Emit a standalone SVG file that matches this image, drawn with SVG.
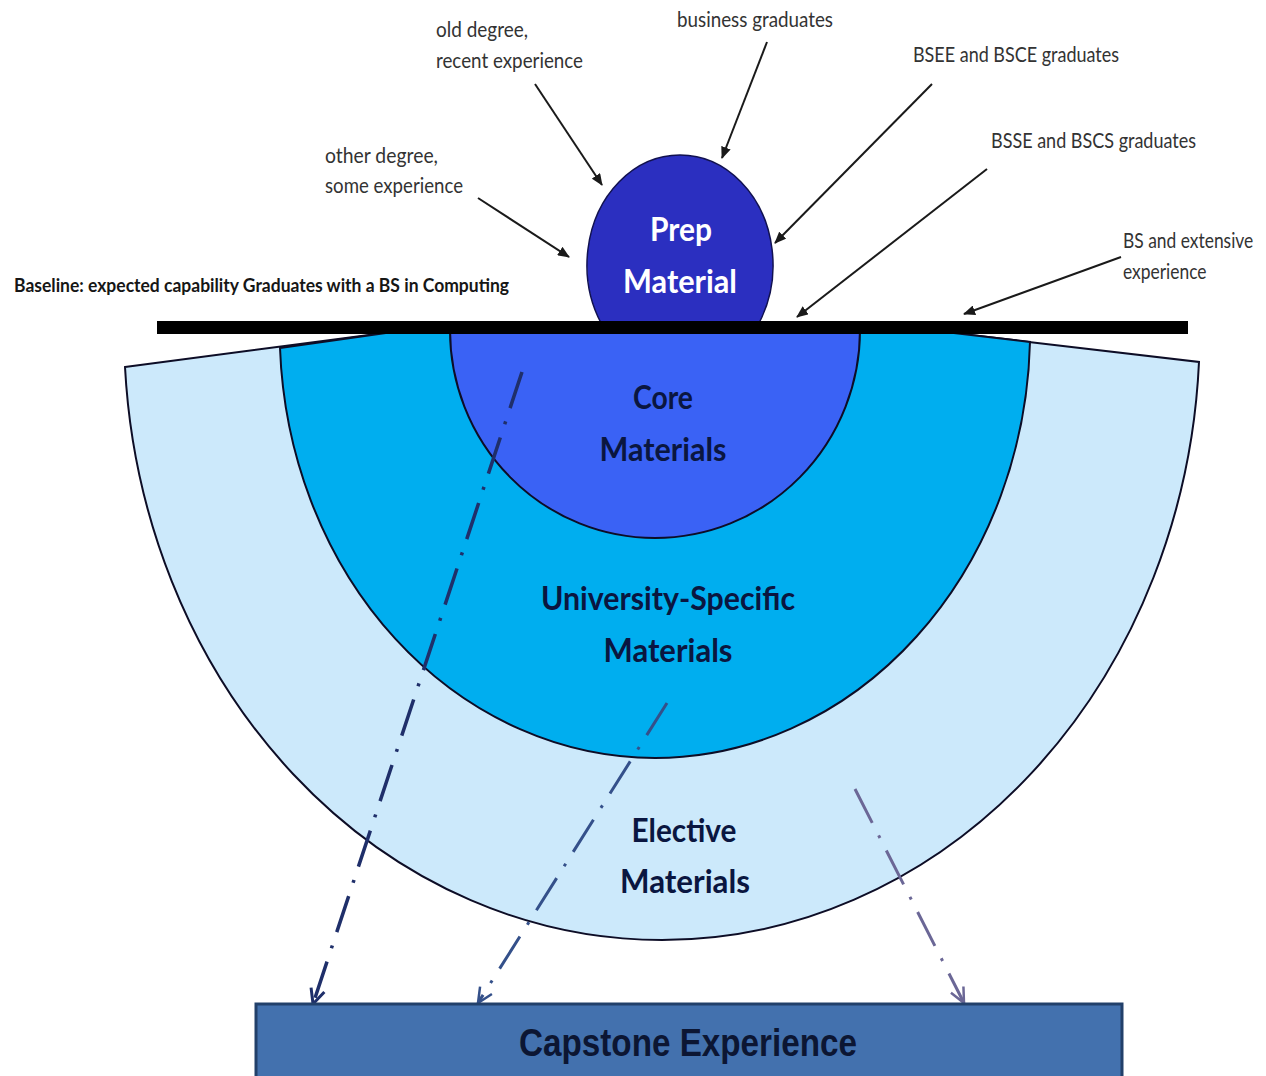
<svg xmlns="http://www.w3.org/2000/svg" width="1266" height="1076" viewBox="0 0 1266 1076">
  <defs>
    <style>
      .lbl{font-family:Lato,"Open Sans","Liberation Sans",sans-serif;font-size:21px;fill:#333}
      .base{font-family:Lato,"Liberation Sans",sans-serif;font-size:19px;font-weight:bold;fill:#161616}
      .big{font-family:Lato,"Open Sans","Liberation Sans",sans-serif;font-weight:bold;font-size:33px;text-anchor:middle}
      .dark{fill:#0a1640}
      .light{fill:#ffffff}
      .ring{stroke:#0d0d26;stroke-width:2}
      .ptr{stroke:#1a1a1a;stroke-width:2;fill:none;marker-end:url(#head)}
      .flow{fill:none;stroke-dasharray:38 14 3 14}
    </style>
    <marker id="head" viewBox="0 0 12 10" refX="11" refY="5" markerWidth="12" markerHeight="10" markerUnits="userSpaceOnUse" orient="auto">
      <path d="M0,0 L12,5 L0,10 Z" fill="#1a1a1a"/>
    </marker>
    <marker id="vA" viewBox="-18 -10 20 20" refX="0" refY="0" markerWidth="20" markerHeight="20" markerUnits="userSpaceOnUse" orient="auto">
      <path d="M-15,-7 L0,0 L-15,7" fill="none" stroke="#1f2f6a" stroke-width="3"/>
    </marker>
    <marker id="vB" viewBox="-18 -10 20 20" refX="0" refY="0" markerWidth="20" markerHeight="20" markerUnits="userSpaceOnUse" orient="auto">
      <path d="M-15,-7 L0,0 L-15,7" fill="none" stroke="#34508a" stroke-width="2.5"/>
    </marker>
    <marker id="vC" viewBox="-18 -10 20 20" refX="0" refY="0" markerWidth="20" markerHeight="20" markerUnits="userSpaceOnUse" orient="auto">
      <path d="M-15,-7 L0,0 L-15,7" fill="none" stroke="#6b6796" stroke-width="2.5"/>
    </marker>
  </defs>

  <rect width="1266" height="1076" fill="#ffffff"/>

  <!-- nested curriculum layers -->
  <g id="elective">
    <path class="ring" fill="#cce9fb" d="M125,367 L407,330 L928,330 L1199,362 A538,610 0 0 1 662,940 A538,610 0 0 1 125,367 Z"/>
  </g>
  <g id="university">
    <path class="ring" fill="#00aeef" d="M280,348 L407,330 L928,330 L1030,342 A376,428 0 0 1 655,758 A376,428 0 0 1 280,348 Z"/>
  </g>
  <g id="core">
    <path class="ring" fill="#3a62f5" d="M450,330 L860,330 A205,208 0 0 1 655,538 A205,208 0 0 1 450,330 Z"/>
  </g>

  <!-- connectors -->
  <g id="connectors">
    <path class="flow" stroke="#1f2f6a" stroke-width="3.5" marker-end="url(#vA)" d="M522,372 L313,1004"/>
    <path class="flow" stroke="#34508a" stroke-width="3" marker-end="url(#vB)" d="M667,703 L478,1003"/>
    <path class="flow" stroke="#6b6796" stroke-width="3" marker-end="url(#vC)" d="M855,789 L964,1003"/>
    <path class="ptr" d="M535,84 L602,185"/>
    <path class="ptr" d="M767,42 L722,158"/>
    <path class="ptr" d="M932,84 L775,243"/>
    <path class="ptr" d="M987,169 L797,317"/>
    <path class="ptr" d="M1121,257 L964,314"/>
    <path class="ptr" d="M478,198 L569,257"/>
  </g>

  <g id="prep">
    <path fill="#2b2fc0" stroke="#111150" stroke-width="1.5" d="M601.5,324 A93,110 0 1 1 758.5,324 Z"/>
    <text class="big light" x="681" y="241" textLength="62" lengthAdjust="spacingAndGlyphs">Prep</text>
    <text class="big light" x="680" y="293" textLength="114" lengthAdjust="spacingAndGlyphs">Material</text>
  </g>

  <g id="baseline">
    <rect x="157" y="321" width="1031" height="13" fill="#000000"/>
    <text class="base" x="14" y="292" textLength="495" lengthAdjust="spacingAndGlyphs">Baseline: expected capability Graduates with a BS in Computing</text>
  </g>

  <!-- layer titles -->
  <g id="core-label">
    <text class="big dark" x="663" y="409" textLength="60" lengthAdjust="spacingAndGlyphs">Core</text>
    <text class="big dark" x="663" y="461" textLength="127" lengthAdjust="spacingAndGlyphs">Materials</text>
  </g>
  <g id="university-label">
    <text class="big dark" x="668" y="610" textLength="254" lengthAdjust="spacingAndGlyphs">University-Specific</text>
    <text class="big dark" x="668" y="662" textLength="129" lengthAdjust="spacingAndGlyphs">Materials</text>
  </g>
  <g id="elective-label">
    <text class="big dark" x="684" y="842" textLength="105" lengthAdjust="spacingAndGlyphs">Elective</text>
    <text class="big dark" x="685" y="893" textLength="130" lengthAdjust="spacingAndGlyphs">Materials</text>
  </g>

  <g id="capstone">
    <rect x="256" y="1004" width="866" height="80" fill="#4371ae" stroke="#22406a" stroke-width="3"/>
    <text x="688" y="1056" font-family="'Liberation Sans',Arial,sans-serif" font-weight="bold" font-size="38" fill="#0c1633" text-anchor="middle" textLength="338" lengthAdjust="spacingAndGlyphs">Capstone Experience</text>
  </g>

  <!-- entry-point labels -->
  <g id="label-old-degree">
    <text class="lbl" x="436" y="37" textLength="92" lengthAdjust="spacingAndGlyphs">old degree,</text>
    <text class="lbl" x="436" y="68" textLength="147" lengthAdjust="spacingAndGlyphs">recent experience</text>
  </g>
  <g id="label-business">
    <text class="lbl" x="677" y="27" textLength="156" lengthAdjust="spacingAndGlyphs">business graduates</text>
  </g>
  <g id="label-bsee">
    <text class="lbl" x="913" y="62" textLength="206" lengthAdjust="spacingAndGlyphs">BSEE and BSCE graduates</text>
  </g>
  <g id="label-bsse">
    <text class="lbl" x="991" y="148" textLength="205" lengthAdjust="spacingAndGlyphs">BSSE and BSCS graduates</text>
  </g>
  <g id="label-extensive">
    <text class="lbl" transform="translate(1123,248) scale(0.83,1)">BS and extensive</text>
    <text class="lbl" transform="translate(1123,279) scale(0.83,1)">experience</text>
  </g>
  <g id="label-other-degree">
    <text class="lbl" x="325" y="163" textLength="113" lengthAdjust="spacingAndGlyphs">other degree,</text>
    <text class="lbl" x="325" y="193" textLength="138" lengthAdjust="spacingAndGlyphs">some experience</text>
  </g>
</svg>
